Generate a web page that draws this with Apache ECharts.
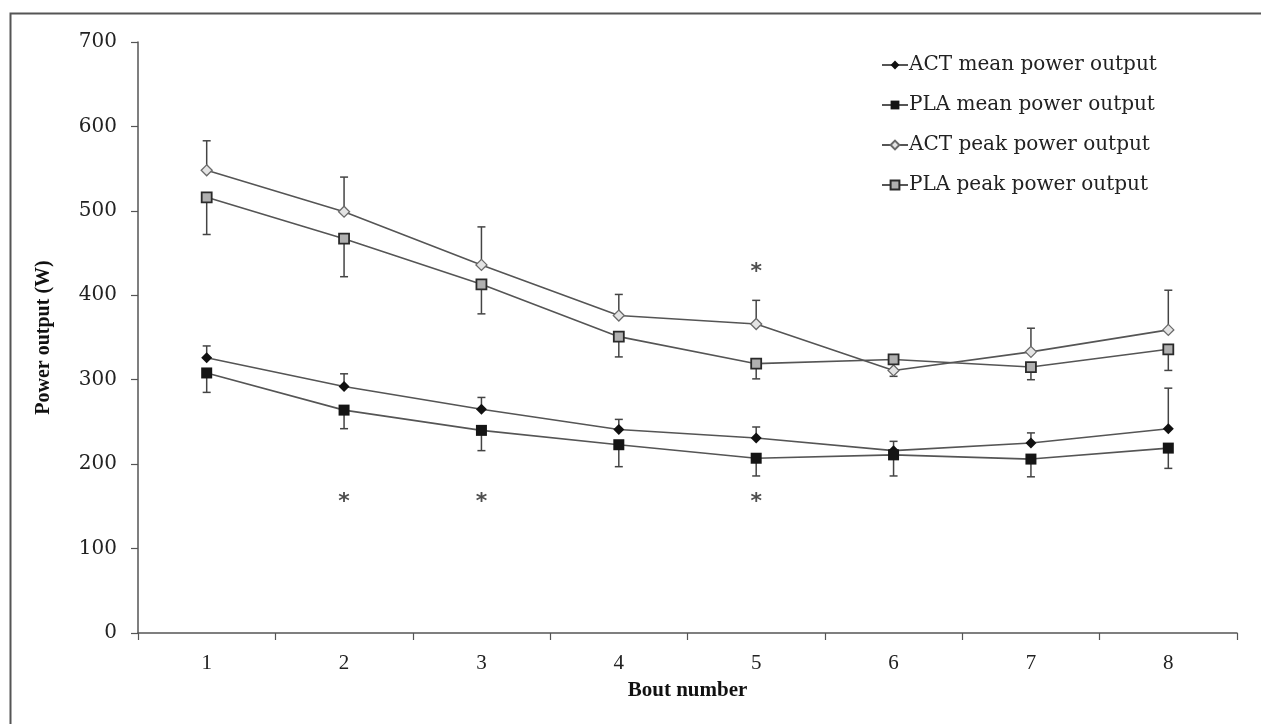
<!DOCTYPE html>
<html>
<head>
<meta charset="utf-8">
<script src="https://cdn.jsdelivr.net/npm/echarts@6/dist/echarts.min.js"></script>
<style>
html,body{margin:0;padding:0;background:#fff;}
#chart{width:1261px;height:724px;}
</style>
</head>
<body>
<div id="chart"></div>
<script>
const bouts = ['1','2','3','4','5','6','7','8'];
const yTicks = [0,100,200,300,400,500,600,700];

const actMean    = [326, 292, 265, 241, 231, 216, 225, 242];
const actMeanErr = [340, 307, 279, 253, 244, 227, 237, 290];
const plaMean    = [308, 264, 240, 223, 207, 211, 206, 219];
const plaMeanErr = [285, 242, 216, 197, 186, 186, 185, 195];
const actPeak    = [548, 499, 436, 376, 366, 311, 333, 359];
const actPeakErr = [583, 540, 481, 401, 394, 304, 361, 406];
const plaPeak    = [516, 467, 413, 351, 319, 324, 315, 336];
const plaPeakErr = [472, 422, 378, 327, 301, 324, 300, 311];

const sigBout  = ['2','3','5','5'];
const sigValue = [160, 160, 160, 432];

const seriesNames = ['ACT mean power output','PLA mean power output','ACT peak power output','PLA peak power output'];

const FONT = '"Liberation Serif", "DejaVu Serif", serif';
const WIDEFONT = '"DejaVu Serif", "Liberation Serif", serif';
const LINE = '#555';

function errData(mean, err){
  return mean.map((v,i)=>[i, v, err[i]]);
}
function errSeries(mean, err){
  return {
    type:'custom',
    silent:true,
    z:1,
    data: errData(mean, err),
    renderItem:function(params, api){
      const x = api.value(0), v0 = api.value(1), v1 = api.value(2);
      const p0 = api.coord([x, v0]);
      const p1 = api.coord([x, v1]);
      const st = {stroke:'#444', lineWidth:1.5};
      return {type:'group', children:[
        {type:'line', shape:{x1:p0[0], y1:p0[1], x2:p1[0], y2:p1[1]}, style:st},
        {type:'line', shape:{x1:p1[0]-4, y1:p1[1], x2:p1[0]+4, y2:p1[1]}, style:st}
      ]};
    }
  };
}

const chart = echarts.init(document.getElementById('chart'));
chart.setOption({
  animation:false,
  backgroundColor:'#fff',
  graphic:[{
    type:'rect', left:8, top:11, silent:true,
    shape:{x:0,y:0,width:1400,height:900},
    style:{fill:'none', stroke:'#555', lineWidth:2}
  }],
  grid:{left:138, right:24, top:42, bottom:91},
  legend:{
    orient:'vertical', left:876, top:50,
    itemWidth:26, itemHeight:11, itemGap:20,
    data: seriesNames,
    textStyle:{fontFamily:WIDEFONT, fontSize:20, color:'#222', padding:[0,0,0,-4]}
  },
  xAxis:{
    type:'category', data:bouts, boundaryGap:true,
    name:'Bout number', nameLocation:'middle', nameGap:47,
    nameTextStyle:{fontFamily:FONT, fontSize:21, fontWeight:'bold', color:'#111'},
    axisLine:{lineStyle:{color:LINE, width:1.5}},
    axisTick:{show:true, length:7, lineStyle:{color:LINE, width:1.2}},
    axisLabel:{fontFamily:FONT, fontSize:21, color:'#222', margin:20}
  },
  yAxis:{
    type:'value', min:yTicks[0], max:yTicks[yTicks.length-1], interval:100,
    name:'Power output (W)', nameLocation:'middle', nameGap:84,
    nameTextStyle:{fontFamily:FONT, fontSize:20, fontWeight:'bold', color:'#111'},
    splitLine:{show:false},
    axisLine:{show:true, lineStyle:{color:LINE, width:1.5}},
    axisTick:{show:true, length:7, lineStyle:{color:LINE, width:1.2}},
    axisLabel:{fontFamily:WIDEFONT, fontSize:20, color:'#222', margin:21}
  },
  series:[
    errSeries(actMean, actMeanErr),
    errSeries(plaMean, plaMeanErr),
    errSeries(actPeak, actPeakErr),
    errSeries(plaPeak, plaPeakErr),
    {
      name:seriesNames[0], type:'line', data:actMean, z:3,
      symbol:'diamond', symbolSize:11, showAllSymbol:true,
      lineStyle:{color:LINE, width:1.6},
      itemStyle:{color:'#111', borderColor:'#111', borderWidth:0}
    },
    {
      name:seriesNames[1], type:'line', data:plaMean, z:3,
      symbol:'rect', symbolSize:11,
      lineStyle:{color:LINE, width:1.6},
      itemStyle:{color:'#151515', borderColor:'#151515', borderWidth:0}
    },
    {
      name:seriesNames[2], type:'line', data:actPeak, z:3,
      symbol:'diamond', symbolSize:11,
      lineStyle:{color:LINE, width:1.6},
      itemStyle:{color:'#e4e4e4', borderColor:'#6a6a6a', borderWidth:1.3}
    },
    {
      name:seriesNames[3], type:'line', data:plaPeak, z:3,
      symbol:'rect', symbolSize:10,
      lineStyle:{color:LINE, width:1.6},
      itemStyle:{color:'#b0b0b0', borderColor:'#2a2a2a', borderWidth:1.8}
    },
    {
      type:'scatter', silent:true, z:4,
      symbolSize:1, itemStyle:{color:'rgba(0,0,0,0)'},
      data: sigBout.map((b,i)=>[b, sigValue[i]]),
      label:{show:true, position:'inside', formatter:'*', offset:[0,4],
        fontFamily:'"DejaVu Sans", sans-serif', fontSize:22, fontWeight:'bold', color:'#222'}
    }
  ]
});
</script>
</body>
</html>
